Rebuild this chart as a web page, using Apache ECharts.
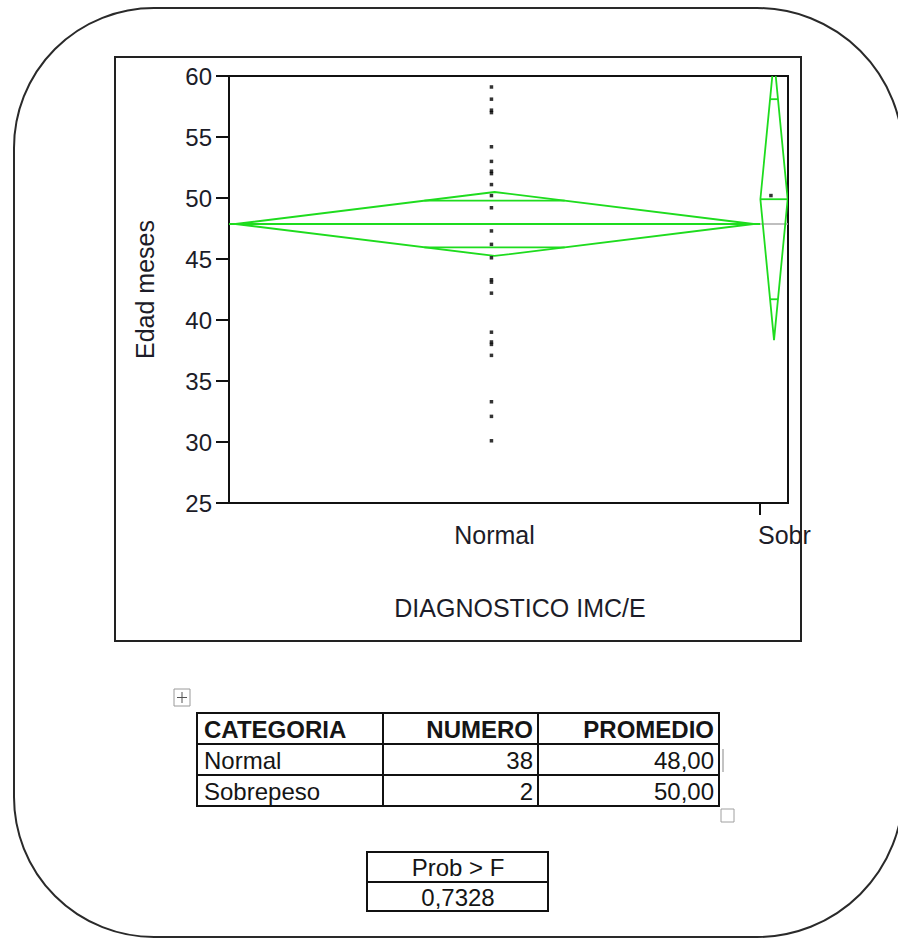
<!DOCTYPE html>
<html><head><meta charset="utf-8">
<script src="https://cdn.jsdelivr.net/npm/echarts@6/dist/echarts.min.js"></script>
<style>html,body{margin:0;padding:0;background:#fff;overflow:hidden}#c{width:898px;height:938px}</style>
</head><body><div id="c"></div>
<script>
// ---- data ----
const categories = ['Normal', 'Sobrepeso'];
const groupCounts = [38, 2];
const groupMeans = [47.87, 49.9];
const ciHalfWidths = [2.62, 11.55];
const overlapHalfWidths = [1.91, 8.2];
const grandMean = 47.87;
const normalAges = [59.1, 58.1, 57.2, 57.0, 54.2, 53.0, 52.2, 52.0, 51.1, 50.2, 49.2, 47.3, 46.2, 45.1, 43.3, 43.1, 42.2, 39.0, 38.2, 38.0, 37.1, 33.3, 32.1, 30.1];
const sobrepesoAges = [50.2];
const yTicks = [25, 30, 35, 40, 45, 50, 55, 60];
const xTitle = 'DIAGNOSTICO IMC/E';
const yTitle = 'Edad meses';
const tableHeader = ['CATEGORIA', 'NUMERO', 'PROMEDIO'];
const tableRows = [['Normal', '38', '48,00'], ['Sobrepeso', '2', '50,00']];
const probHeader = 'Prob > F';
const probValue = '0,7328';

// ---- derived ----
const FONT = '"Liberation Sans", Arial, sans-serif';
const GREEN = '#1edc1e';
const TXT = '#1c1c28';
const total = groupCounts.reduce((a, b) => a + b, 0);
const starts = [];
groupCounts.reduce((acc, n, i) => { starts[i] = acc; return acc + n; }, 0);
const centers = groupCounts.map((n, i) => starts[i] + n / 2);
const dotShift = -0.22;
const allAges = [normalAges, sobrepesoAges];
const dots = [];
allAges.forEach((arr, i) => arr.forEach(v => dots.push([centers[i] + dotShift, v])));

const chart = echarts.init(document.getElementById('c'), null, { renderer: 'svg' });

function renderDiamond(params, api) {
  const i = api.value(0);
  const s = starts[i], e = s + groupCounts[i], c = centers[i];
  const hw = groupCounts[i] / 2 * 0.975;
  const m = groupMeans[i], ci = ciHalfWidths[i], ov = overlapHalfWidths[i];
  const k = hw * (1 - ov / ci);
  const p = (x, y) => api.coord([x, y]);
  const ls = { stroke: GREEN, lineWidth: 1.8, fill: null };
  const cs = params.coordSys;
  const seg = (x1, y1, x2, y2) => { const a = p(x1, y1), b = p(x2, y2); return { type: 'line', shape: { x1: a[0], y1: a[1], x2: b[0], y2: b[1] }, style: ls }; };
  return {
    type: 'group',
    clipPath: { type: 'rect', shape: { x: cs.x, y: cs.y, width: cs.width, height: cs.height } },
    children: [
      { type: 'polygon', shape: { points: [p(c - hw, m), p(c, m + ci), p(c + hw, m), p(c, m - ci)] }, style: { stroke: GREEN, lineWidth: 1.8, fill: 'none' } },
      seg(s, m, e, m),
      seg(c - k, m + ov, c + k, m + ov),
      seg(c - k, m - ov, c + k, m - ov)
    ]
  };
}

// page frame: rounded border whose right side lies outside the window (drawn only where visible)
const fs = { fill: 'none', stroke: '#2a2a2a', lineWidth: 2 };
const PI = Math.PI;
const graphics = [];
graphics.push({ type: 'line', silent: true, shape: { x1: 154, y1: 8, x2: 757, y2: 8 }, style: fs });
graphics.push({ type: 'line', silent: true, shape: { x1: 154, y1: 937, x2: 757, y2: 937 }, style: fs });
graphics.push({ type: 'line', silent: true, shape: { x1: 14, y1: 148, x2: 14, y2: 797 }, style: fs });
graphics.push({ type: 'arc', silent: true, shape: { cx: 154, cy: 148, r: 140, startAngle: PI, endAngle: 1.5 * PI, clockwise: true }, style: fs });
graphics.push({ type: 'arc', silent: true, shape: { cx: 154, cy: 797, r: 140, startAngle: 0.5 * PI, endAngle: PI, clockwise: true }, style: fs });
graphics.push({ type: 'arc', silent: true, shape: { cx: 757, cy: 154, r: 146, startAngle: 1.5 * PI, endAngle: 2 * PI, clockwise: true }, style: fs });
graphics.push({ type: 'arc', silent: true, shape: { cx: 757, cy: 791, r: 146, startAngle: 0, endAngle: 0.5 * PI, clockwise: true }, style: fs });
graphics.push({ type: 'rect', shape: { x: 115, y: 57, width: 686, height: 584 }, style: { fill: 'none', stroke: '#222', lineWidth: 2 }, silent: true });
graphics.push({ type: 'text', x: 520, y: 608, style: { text: xTitle, font: '25px ' + FONT, fill: TXT, align: 'center', verticalAlign: 'middle' } });
// table 1
const colX = [197, 383, 538, 719];
const rowY = [713, 744, 775, 806];
graphics.push({ type: 'rect', shape: { x: colX[0], y: rowY[0], width: colX[3] - colX[0], height: rowY[3] - rowY[0] }, style: { fill: 'none', stroke: '#111', lineWidth: 2 } });
[1, 2].forEach(j => graphics.push({ type: 'line', shape: { x1: colX[j], y1: rowY[0], x2: colX[j], y2: rowY[3] }, style: { stroke: '#111', lineWidth: 2 } }));
[1, 2].forEach(j => graphics.push({ type: 'line', shape: { x1: colX[0], y1: rowY[j], x2: colX[3], y2: rowY[j] }, style: { stroke: '#111', lineWidth: 2 } }));
const allRows = [tableHeader].concat(tableRows);
allRows.forEach((row, r) => {
  const cy = (rowY[r] + rowY[r + 1]) / 2 + 1;
  const weight = r === 0 ? 'bold ' : '';
  row.forEach((txt, ci) => {
    const left = ci === 0;
    graphics.push({ type: 'text', x: left ? colX[0] + 7 : colX[ci + 1] - 5, y: cy,
      style: { text: txt, font: weight + '24px ' + FONT, fill: '#151515', align: left ? 'left' : 'right', verticalAlign: 'middle' } });
  });
});
// move handle icon
graphics.push({ type: 'rect', shape: { x: 174, y: 689, width: 16, height: 17 }, style: { fill: '#fff', stroke: '#9a9a9a', lineWidth: 1 } });
graphics.push({ type: 'line', shape: { x1: 177, y1: 697.5, x2: 187, y2: 697.5 }, style: { stroke: '#555', lineWidth: 1 } });
graphics.push({ type: 'line', shape: { x1: 182, y1: 692, x2: 182, y2: 703 }, style: { stroke: '#555', lineWidth: 1 } });
// resize handle & cursor
graphics.push({ type: 'rect', shape: { x: 721, y: 809, width: 13, height: 13 }, style: { fill: '#fff', stroke: '#a0a0a0', lineWidth: 1 } });
graphics.push({ type: 'line', shape: { x1: 723, y1: 749, x2: 723, y2: 772 }, style: { stroke: '#888', lineWidth: 1 } });
// table 2
graphics.push({ type: 'rect', shape: { x: 367, y: 852, width: 181, height: 59 }, style: { fill: 'none', stroke: '#111', lineWidth: 2 } });
graphics.push({ type: 'line', shape: { x1: 367, y1: 882, x2: 548, y2: 882 }, style: { stroke: '#111', lineWidth: 2 } });
graphics.push({ type: 'text', x: 458, y: 867, style: { text: probHeader, font: '24px ' + FONT, fill: '#151515', align: 'center', verticalAlign: 'middle' } });
graphics.push({ type: 'text', x: 458, y: 897, style: { text: probValue, font: '24px ' + FONT, fill: '#151515', align: 'center', verticalAlign: 'middle' } });

const option = {
  animation: false,
  backgroundColor: '#fff',
  grid: { left: 229, top: 76, width: 559, height: 427, show: true, borderColor: '#111', borderWidth: 2, backgroundColor: 'transparent' },
  xAxis: [
    { type: 'value', min: 0, max: total,
      axisLine: { show: true, lineStyle: { color: '#111', width: 2 } },
      axisTick: { show: true, customValues: starts.slice(1), length: 12, lineStyle: { color: '#111', width: 2 } },
      axisLabel: { customValues: [centers[0]], formatter: v => categories[centers.indexOf(v)], fontSize: 25, fontFamily: FONT, color: TXT, margin: 19 },
      splitLine: { show: false } },
    { type: 'value', min: 0, max: total, position: 'bottom',
      axisLine: { show: false }, axisTick: { show: false },
      axisLabel: { customValues: [starts[1] - 0.15], formatter: () => categories[1], align: 'left', width: 55, overflow: 'truncate', ellipsis: '', fontSize: 25, fontFamily: FONT, color: TXT, margin: 19 },
      splitLine: { show: false } }
  ],
  yAxis: {
    type: 'value', min: yTicks[0], max: yTicks[yTicks.length - 1], interval: 5,
    name: yTitle, nameLocation: 'middle', nameRotate: 90, nameGap: 72,
    nameTextStyle: { fontSize: 25, fontFamily: FONT, color: TXT },
    axisLine: { show: true, lineStyle: { color: '#111', width: 2 } },
    axisTick: { show: true, inside: false, length: 13, lineStyle: { color: '#111', width: 2 } },
    axisLabel: { fontSize: 24, fontFamily: FONT, color: TXT, margin: 17 },
    splitLine: { show: false }
  },
  graphic: graphics,
  series: [
    { type: 'line', data: [[0, grandMean], [total, grandMean]], symbol: 'none', lineStyle: { color: '#aaaaaa', width: 1.5 }, z: 1, silent: true },
    { type: 'custom', data: categories.map((c, i) => [i]), renderItem: renderDiamond, z: 2, silent: true },
    { type: 'scatter', data: dots, symbol: 'rect', symbolSize: 3.5, itemStyle: { color: '#000' }, z: 3, silent: true }
  ]
};
chart.setOption(option);
</script>
</body></html>
